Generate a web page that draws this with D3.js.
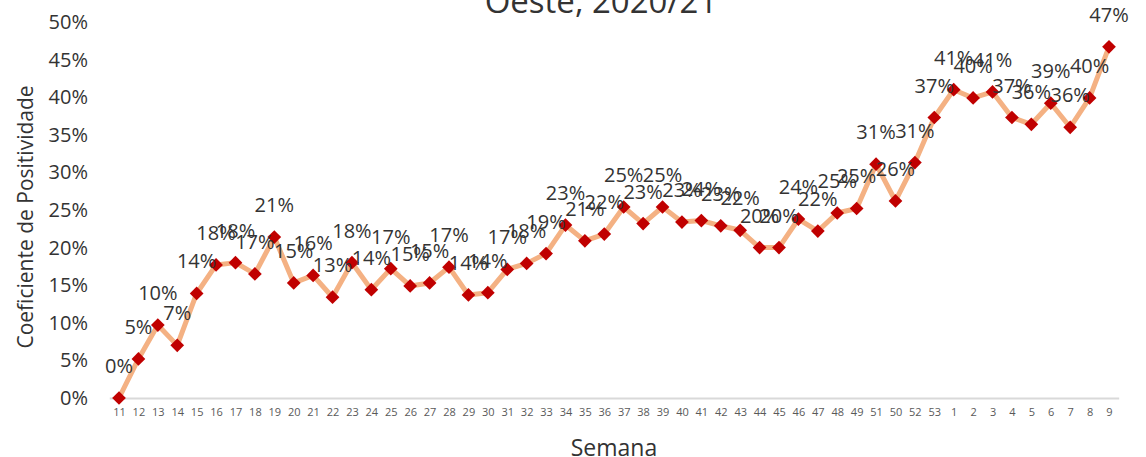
<!DOCTYPE html>
<html>
<head>
<meta charset="utf-8">
<script src="https://cdn.jsdelivr.net/npm/d3@7"></script>
<style>
  body { margin: 0; background: #fff; }
  svg text { font-family: "Open Sans", "DejaVu Sans", sans-serif; }
</style>
</head>
<body>
<div id="chart"></div>
<script>
// weeks as shown on the x axis (note 51 comes before 50 in the source)
const weeks = ["11","12","13","14","15","16","17","18","19","20","21","22","23","24","25","26","27","28","29","30",
  "31","32","33","34","35","36","37","38","39","40","41","42","43","44","45","46","47","48","49","51","50","52","53",
  "1","2","3","4","5","6","7","8","9"];
// positivity rate
const positivity = [0.000,0.052,0.097,0.070,0.139,0.177,0.180,0.165,0.214,0.153,0.163,0.134,0.180,0.144,0.172,0.149,0.153,
  0.174,0.137,0.140,0.171,0.179,0.192,0.230,0.209,0.218,0.254,0.232,0.254,0.234,0.236,0.229,0.223,0.200,0.200,
  0.238,0.222,0.246,0.252,0.311,0.262,0.313,0.373,0.410,0.399,0.407,0.373,0.364,0.392,0.360,0.399,0.467];
const yTicks = [0,0.05,0.1,0.15,0.2,0.25,0.3,0.35,0.4,0.45,0.5];

const width = 1146, height = 457;
const textColor = "#333333";
const data = weeks.map((w, i) => ({ week: w, value: positivity[i] }));

const svg = d3.select("#chart").append("svg")
  .attr("width", width)
  .attr("height", height);

const x = d3.scalePoint()
  .domain(weeks)
  .range([109.3, 1118.7])
  .padding(0.5);

const y = d3.scaleLinear()
  .domain([0, 0.5])
  .range([398, 22]);

const pct = d3.format(".0%");

// title (partly cut off at top, as in the source)
svg.append("text")
  .attr("x", 601).attr("y", 13)
  .attr("text-anchor", "middle")
  .attr("font-size", 33)
  .attr("fill", textColor)
  .text("Oeste, 2020/21");

// y axis: labels only
const yAxis = g => {
  g.attr("transform", "translate(88,0)")
    .call(d3.axisLeft(y).tickValues(yTicks).tickFormat(pct).tickSize(0).tickPadding(0))
    .call(g => g.select(".domain").remove())
    .selectAll("text")
      .attr("font-size", 20)
      .attr("fill", textColor);
};
svg.append("g").call(yAxis);

// x axis
const xAxis = g => {
  g.attr("transform", `translate(0,${y(0)})`)
    .call(d3.axisBottom(x).tickSize(0).tickPadding(10))
    .call(g => g.select(".domain").attr("stroke", "#d9d9d9").attr("stroke-width", 2))
    .selectAll("text")
      .attr("font-size", 11)
      .attr("fill", "#595959");
};
svg.append("g").call(xAxis);

// axis titles
svg.append("text")
  .attr("transform", `translate(33,217) rotate(-90)`)
  .attr("text-anchor", "middle")
  .attr("font-size", 21)
  .attr("fill", textColor)
  .text("Coeficiente de Positividade");

svg.append("text")
  .attr("x", 614).attr("y", 456)
  .attr("text-anchor", "middle")
  .attr("font-size", 23)
  .attr("fill", textColor)
  .text("Semana");

// line
svg.append("path")
  .datum(data)
  .attr("fill", "none")
  .attr("stroke", "#f4b183")
  .attr("stroke-width", 5)
  .attr("stroke-linejoin", "round")
  .attr("d", d3.line().x(d => x(d.week)).y(d => y(d.value)));

// diamond markers
svg.append("g")
  .selectAll("path")
  .data(data)
  .join("path")
    .attr("transform", d => `translate(${x(d.week)},${y(d.value)})`)
    .attr("d", d3.symbol(d3.symbolDiamond2, 120))
    .attr("fill", "#c00000");

// data labels
svg.append("g")
  .selectAll("text")
  .data(data)
  .join("text")
    .attr("x", d => x(d.week))
    .attr("y", d => y(d.value) - 25)
    .attr("text-anchor", "middle")
    .attr("font-size", 20)
    .attr("fill", textColor)
    .text(d => pct(d.value));
</script>
</body>
</html>
